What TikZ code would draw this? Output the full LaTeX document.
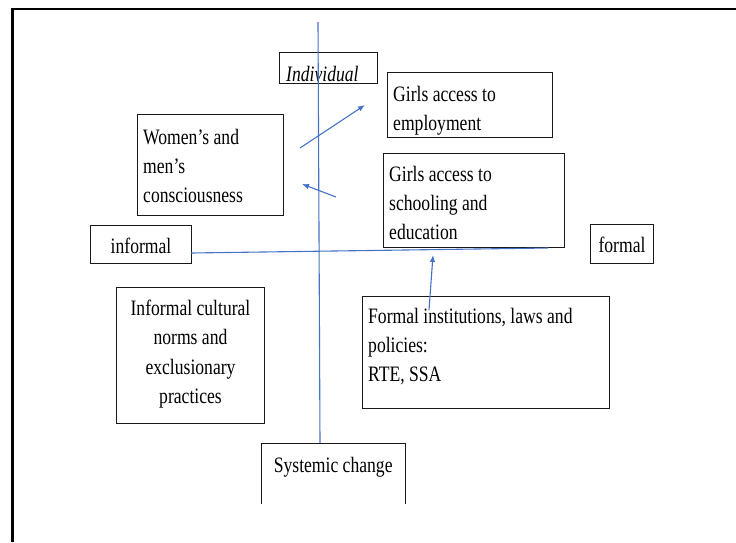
\documentclass[tikz,border=0pt]{standalone}
\usepackage{fontspec}
\setmainfont{Liberation Serif}[FakeStretch=0.8]
\usetikzlibrary{arrows.meta,calc}
\definecolor{axisblue}{HTML}{4472C4}
\tikzset{
  frameline/.style={line width=2.6pt, black},
  boxnode/.style={draw=black!90, line width=1pt, rectangle, inner sep=0pt, anchor=north west},
  plainbox/.style={rectangle, inner sep=0pt, anchor=north west},
  boxedge/.style={draw=black!90, line width=1pt},
  txt/.style={inner sep=0pt, anchor=base west, text=black, font=\fontsize{22}{29}\selectfont},
  ctxt/.style={inner sep=0pt, anchor=base, text=black, font=\fontsize{22}{29.5}\selectfont},
  blueline/.style={axisblue, line width=1.1pt},
  bluearrow/.style={blueline, -{Latex[length=7pt,width=5.5pt]}},
}
\begin{document}
\begin{tikzpicture}[x=1pt, y=-1pt]
\useasboundingbox (0,0) rectangle (736,542);

% outer frame (left and top edges)
\draw[frameline] (12.5,542) -- (12.5,9) -- (736,9);

% boxes
\node[boxnode, minimum width=98pt,  minimum height=31pt]  (ind) at (279,52)  {};
\node[boxnode, minimum width=165pt, minimum height=65pt]  (emp) at (387,72)  {};
\node[boxnode, minimum width=146pt, minimum height=101pt] (con) at (137,114) {};
\node[boxnode, minimum width=181pt, minimum height=94pt]  (sch) at (383,153) {};
\node[boxnode, minimum width=101pt, minimum height=38pt]  (inf) at (90,225)  {};
\node[boxnode, minimum width=63pt,  minimum height=39pt]  (frm) at (590,224) {};
\node[boxnode, minimum width=148pt, minimum height=136pt] (nrm) at (116,287) {};
\node[boxnode, minimum width=247pt, minimum height=112pt] (ins) at (362,296) {};
\node[plainbox, minimum width=144pt, minimum height=61pt] (sys) at (261,443) {};
\draw[boxedge] (sys.south west) |- (sys.north east) -- (sys.south east);

% texts
\node[txt] (indT) at ($(ind.north west)+(7,29)$) {\itshape Individual};
\node[txt] (empT) at ($(emp.north west)+(6,29)$)
  {\parbox[t]{158pt}{\raggedright Girls access to\\employment}};
\node[txt] (conT) at ($(con.north west)+(6,30)$)
  {\parbox[t]{140pt}{\raggedright Women’s and\\men’s\\consciousness}};
\node[txt] (schT) at ($(sch.north west)+(6,28)$)
  {\parbox[t]{174pt}{\raggedright Girls access to\\schooling and\\education}};
\node[ctxt] (infT) at ($(inf.north)+(0,28)$) {informal};
\node[ctxt] (frmT) at ($(frm.north)+(0,28)$) {formal};
\node[ctxt] (nrmT) at ($(nrm.north)+(0,28)$)
  {\parbox[t]{146pt}{\centering Informal cultural\\norms and\\exclusionary\\practices}};
\node[txt] (insT) at ($(ins.north west)+(6,27)$)
  {\parbox[t]{240pt}{\raggedright Formal institutions, laws and\\policies:\\RTE, SSA}};
\node[ctxt] (sysT) at ($(sys.north)+(0,29)$) {Systemic change};

% axes
\coordinate (axT) at (318,22);
\coordinate (axB) at (320,443);
\coordinate (hzL) at (191,253);
\coordinate (hzR) at (548,248);
\draw[blueline] (axT) -- (axB);
\draw[blueline] (hzL) -- (hzR);

% arrows
\coordinate (a1s) at (300,148); \coordinate (a1e) at (365,105);
\coordinate (a2s) at (336,197); \coordinate (a2e) at (302,184);
\coordinate (a3s) at (429,310); \coordinate (a3e) at (433,255);
\draw[bluearrow] (a1s) -- (a1e);
\draw[bluearrow] (a2s) -- (a2e);
\draw[bluearrow] (a3s) -- (a3e);
\end{tikzpicture}
\end{document}
